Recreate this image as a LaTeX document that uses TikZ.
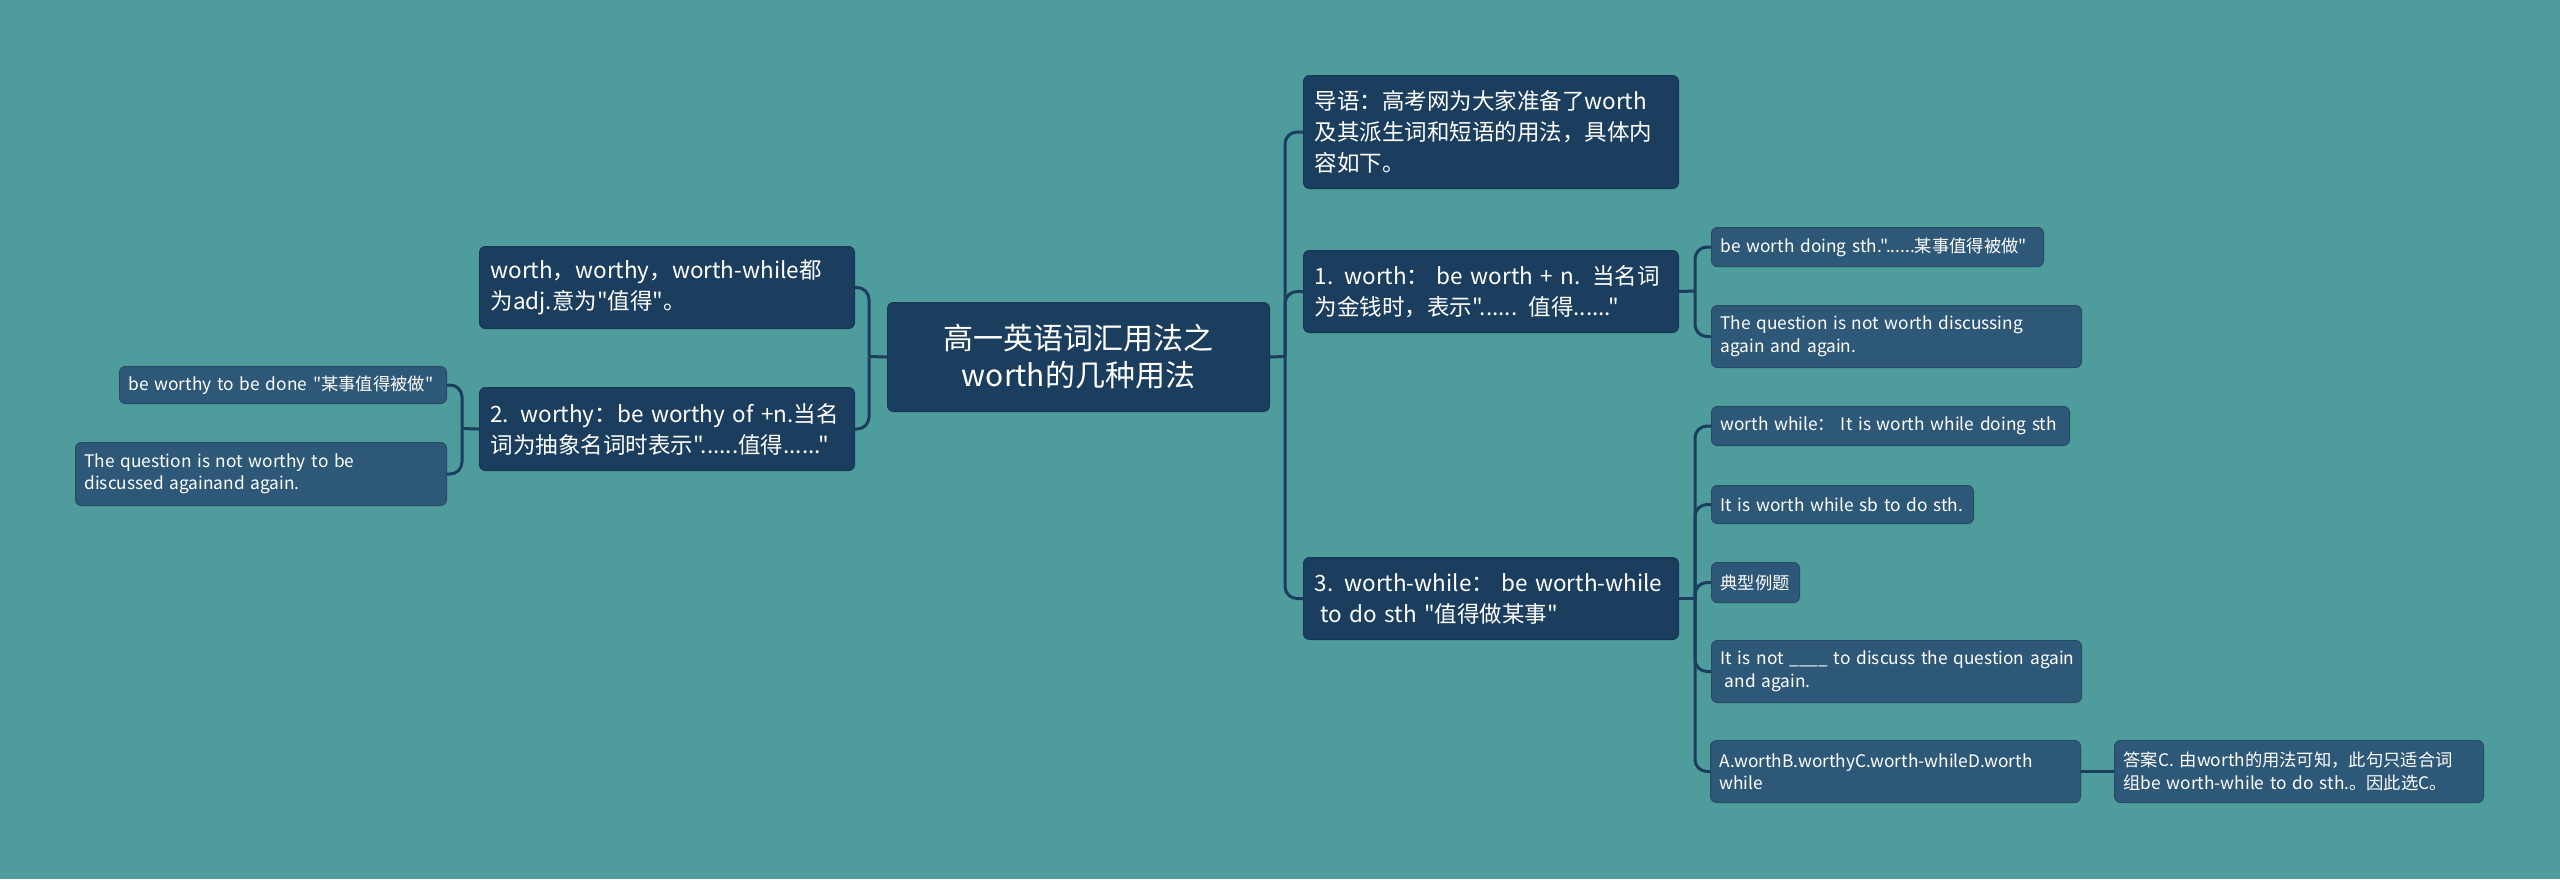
\documentclass[tikz,border=0pt]{standalone}
\usepackage{fontspec}
\newfontfamily\cjk{Noto Sans CJK SC}
\definecolor{bg}{HTML}{4E9C9C}
\definecolor{dark}{HTML}{1B3E5E}
\definecolor{mid}{HTML}{2E5877}
\definecolor{edgec}{HTML}{173653}
\definecolor{linec}{HTML}{1B3E5E}
\begin{document}
\begin{tikzpicture}[x=1pt,y=-1pt,
  box/.style={anchor=north west, rounded corners=6pt, inner ysep=0pt, text=white, line width=1pt},
  rootbox/.style={box, fill=dark, draw=edgec, inner xsep=11pt, align=center, font=\cjk\fontsize{30}{37}\selectfont},
  lone/.style={box, fill=dark, draw=edgec, inner xsep=11pt, align=left, font=\cjk\fontsize{22.5}{31}\selectfont},
  ltwo/.style={box, fill=mid, draw=mid!85!black, inner xsep=9pt, align=left, font=\cjk\fontsize{17.3}{22.5}\selectfont},
  conn/.style={draw=linec, line width=3pt},
  rconn/.style={conn, rounded corners=12pt}]
\fill[bg] (0,0) rectangle (2560,879);
\useasboundingbox (0,0) rectangle (2560,879);

% root
\node[rootbox, minimum width=382pt, minimum height=109pt, text width=360pt] (root) at (887,302) {高一英语词汇用法之\\worth的几种用法};

% right level 1
\node[lone, minimum width=375pt, minimum height=113pt, text width=353pt] (intro) at (1303,75) {\mbox{导语：高考网为大家准备了worth}\\\mbox{及其派生词和短语的用法，具体内}\\容如下。};
\node[lone, minimum width=375pt, minimum height=82pt, text width=353pt] (n1) at (1303,250) {\mbox{1. worth：~be worth + n. 当名词}\\\mbox{为金钱时，表示"...... 值得......"}};
\node[lone, minimum width=375pt, minimum height=82pt, text width=353pt] (n3) at (1303,557) {\mbox{3. worth-while：~be worth-while}\\\hspace*{0.25em}\mbox{to do sth "值得做某事"}};

% left level 1
\node[lone, minimum width=375pt, minimum height=82pt, text width=353pt] (ww) at (479,246) {\mbox{worth，worthy，worth-while都}\\\mbox{为adj.意为"值得"。}};
\node[lone, minimum width=375pt, minimum height=83pt, text width=353pt] (n2) at (479,387) {\mbox{2. worthy：be worthy of +n.当名}\\\mbox{词为抽象名词时表示"......值得......"}};

% right level 2
\node[ltwo, minimum width=332pt, minimum height=39pt, text width=314pt] (bwd) at (1711,227) {\mbox{be worth doing sth."......某事值得被做"}};
\node[ltwo, minimum width=370pt, minimum height=62pt, text width=352pt] (qnw) at (1711,305) {\mbox{The question is not worth discussing}\\\mbox{again and again.}};
\node[ltwo, minimum width=358pt, minimum height=39pt, text width=340pt] (wwa) at (1711,406) {\mbox{worth while：~It is worth while doing sth}};
\node[ltwo, minimum width=262pt, minimum height=38pt, text width=244pt] (wwb) at (1711,485) {\mbox{It is worth while sb to do sth.}};
\node[ltwo, minimum width=88pt, minimum height=40pt, text width=70pt] (typ) at (1711,562) {\mbox{典型例题}};
\node[ltwo, minimum width=370pt, minimum height=62pt, text width=352pt] (itn) at (1711,640) {\mbox{It is not \_\_\_\_ to discuss the question again}\\\hspace*{0.25em}\mbox{and again.}};
\node[ltwo, minimum width=370pt, minimum height=62pt, text width=352pt] (abcd) at (1710,740) {\mbox{A.worthB.worthyC.worth-whileD.worth}\\while};
\node[ltwo, minimum width=369pt, minimum height=62pt, text width=351pt] (ans) at (2114,740) {\mbox{答案C. 由worth的用法可知，此句只适合词}\\\mbox{组be worth-while to do sth.。因此选C。}};

% left level 2
\node[ltwo, minimum width=327pt, minimum height=37pt, text width=309pt] (lta) at (119,366) {\mbox{be worthy to be done "某事值得被做"}};
\node[ltwo, minimum width=371pt, minimum height=63pt, text width=353pt] (ltb) at (75,442) {\mbox{The question is not worthy to be}\\\mbox{discussed againand again.}};

% junctions
\coordinate (T1) at (1285,356.5);
\coordinate (T2) at (869,356.5);
\coordinate (T3) at (462,428.5);
\coordinate (T4) at (1695,291);
\coordinate (T5) at (1695,598.5);

% connectors
\draw[conn] (root.east) -- (T1);
\draw[rconn] (T1) |- (intro.west);
\draw[rconn] (T1) |- (n1.west);
\draw[rconn] (T1) |- (n3.west);

\draw[conn] (root.west) -- (T2);
\draw[rconn] (T2) |- (ww.east);
\draw[rconn] (T2) |- (n2.east);

\draw[conn] (n2.west) -- (T3);
\draw[rconn] (T3) |- (lta.east);
\draw[rconn] (T3) |- (ltb.east);

\draw[conn] (n1.east) -- (T4);
\draw[rconn] (T4) |- (bwd.west);
\draw[rconn] (T4) |- (qnw.west);

\draw[conn] (n3.east) -- (T5);
\draw[rconn] (T5) |- (wwa.west);
\draw[rconn] (T5) |- (wwb.west);
\draw[rconn] (T5) |- (typ.west);
\draw[rconn] (T5) |- (itn.west);
\draw[rconn] (T5) |- (abcd.west);

\draw[conn] (abcd.east) -- (ans.west);
\end{tikzpicture}
\end{document}
